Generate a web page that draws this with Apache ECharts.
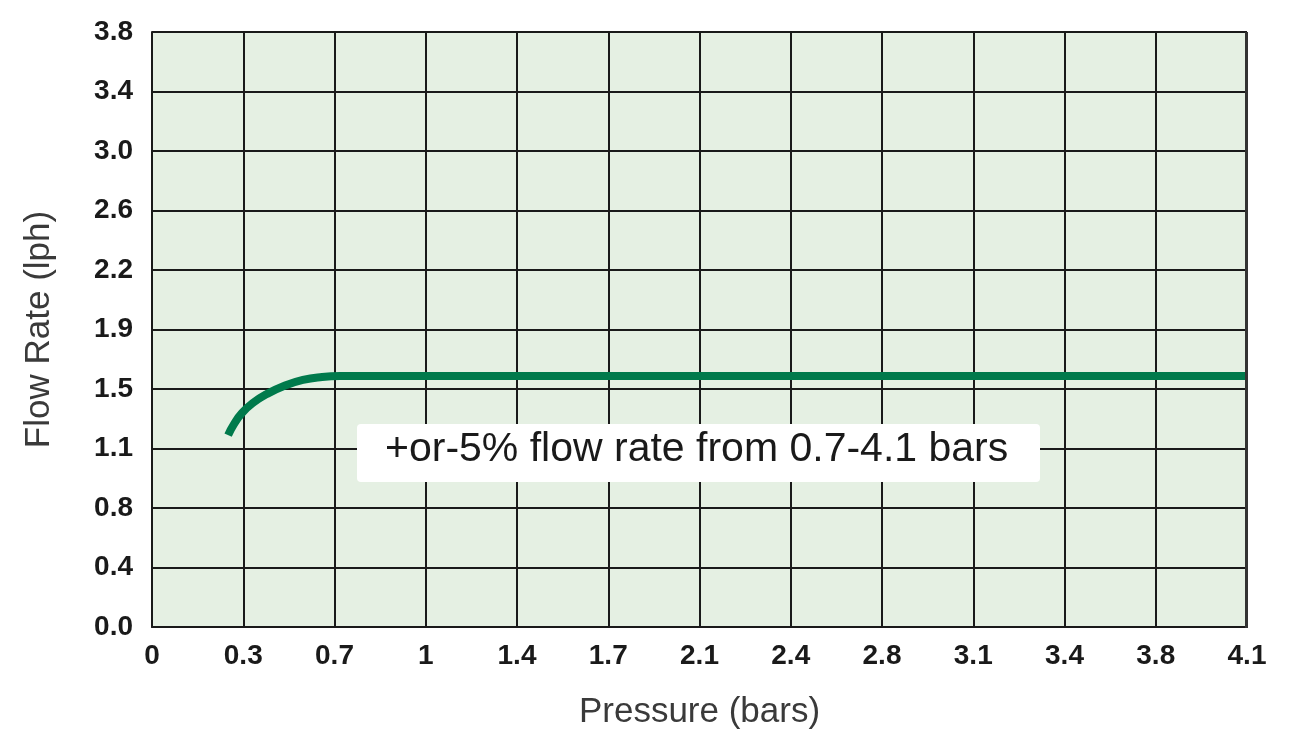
<!DOCTYPE html>
<html>
<head>
<meta charset="utf-8">
<script src="https://cdn.jsdelivr.net/npm/echarts@6/dist/echarts.min.js"></script>
<style>html,body{margin:0;padding:0;background:#fff;}#c{width:1289px;height:735px;}</style>
</head>
<body>
<div id="c"></div>
<script>
// Tick labels as printed on the chart
var xTickLabels = ['0','0.3','0.7','1','1.4','1.7','2.1','2.4','2.8','3.1','3.4','3.8','4.1'];
var yTickLabels = ['0.0','0.4','0.8','1.1','1.5','1.9','2.2','2.6','3.0','3.4','3.8'];
var xMax = 4.1, yMax = 3.8;
// Flow curve: pressure (bars) vs flow rate (lph)
var pressure = [0.285, 0.307, 0.337, 0.378, 0.430, 0.494, 0.565, 0.637, 0.704, 4.1];
var flowRate = [1.226, 1.296, 1.367, 1.431, 1.488, 1.539, 1.578, 1.597, 1.603, 1.603];
var annotation = '+or-5% flow rate from 0.7-4.1 bars';

var xStep = xMax / (xTickLabels.length - 1);
var yStep = yMax / (yTickLabels.length - 1);
var seriesData = pressure.map(function (p, i) { return [p, flowRate[i]]; });

var chart = echarts.init(document.getElementById('c'));
chart.setOption({
  animation: false,
  grid: { left: 152, top: 32, width: 1095, height: 595, show: true, backgroundColor: '#e5f0e3', borderWidth: 0 },
  xAxis: [{
    type: 'value', min: 0, max: xMax, interval: xStep,
    name: 'Pressure (bars)', nameLocation: 'middle', nameGap: 68,
    nameTextStyle: { fontFamily: 'Liberation Sans', fontSize: 35, color: '#3a3a3a' },
    axisLine: { show: true, lineStyle: { color: '#1a1a1a', width: 2 } },
    axisTick: { show: false },
    splitLine: { show: true, lineStyle: { color: '#1a1a1a', width: 2 } },
    axisLabel: {
      margin: 15, fontFamily: 'Liberation Sans', fontWeight: 'bold', fontSize: 28, color: '#1a1a1a',
      formatter: function (v) { return xTickLabels[Math.round(v / xStep)]; }
    }
  }],
  yAxis: [{
    type: 'value', min: 0, max: yMax, interval: yStep,
    name: 'Flow Rate (lph)', nameLocation: 'middle', nameGap: 95, nameRotate: 90,
    nameTextStyle: { fontFamily: 'Liberation Sans', fontSize: 35, color: '#3a3a3a' },
    axisLine: { show: true, lineStyle: { color: '#1a1a1a', width: 2 } },
    axisTick: { show: false },
    splitLine: { show: true, lineStyle: { color: '#1a1a1a', width: 2 } },
    axisLabel: {
      margin: 19, fontFamily: 'Liberation Sans', fontWeight: 'bold', fontSize: 28, color: '#1a1a1a',
      formatter: function (v) { return yTickLabels[Math.round(v / yStep)]; }
    }
  }],
  series: [{
    type: 'line', data: seriesData, smooth: 0.5, symbol: 'none',
    lineStyle: { color: '#007a4c', width: 8, cap: 'butt', join: 'round' }, z: 1
  }],
  graphic: [{
    type: 'rect', left: 357, top: 424, shape: { width: 683, height: 58, r: 4 },
    style: { fill: '#ffffff' }, z: 100
  }, {
    type: 'text', x: 385, y: 450,
    style: { text: annotation, fontFamily: 'Liberation Sans', fontSize: 41, fill: '#1a1a1a', verticalAlign: 'middle' }, z: 101
  }, {
    type: 'line', shape: { x1: 1246.5, y1: 32, x2: 1246.5, y2: 628 },
    style: { stroke: '#333333', lineWidth: 3 }, z: 102
  }]
});
</script>
</body>
</html>
